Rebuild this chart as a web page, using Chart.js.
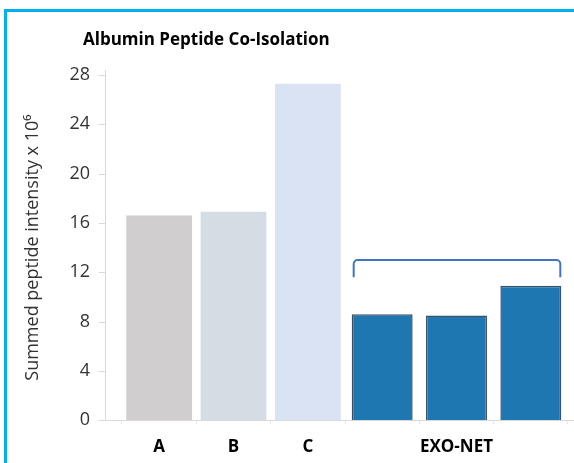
<!DOCTYPE html>
<html>
<head>
<meta charset="utf-8">
<script src="https://cdn.jsdelivr.net/npm/chart.js@4.4.1/dist/chart.umd.min.js"></script>
<style>
    html, body { margin: 0; padding: 0; background: #fff; }
    #wrap { position: relative; width: 574px; height: 463px; overflow: hidden; }
    #frame {
        position: absolute; left: 4px; top: 9px; width: 600px; height: 500px;
        border-left: 3px solid #00b0f0; border-top: 3px solid #00b0f0;
        pointer-events: none;
    }
</style>
</head>
<body>
<div id="wrap">
    <canvas id="albuminChart" width="574" height="463"></canvas>
    <div id="frame"></div>
</div>
<script>
// ===== DATA =====
const categories = ['A', 'B', 'C', 'EXO-NET 1', 'EXO-NET 2', 'EXO-NET 3'];
const tickLabels = ['A', 'B', 'C', '', 'EXO-NET', ''];
const otherMethods = [16.6, 16.9, 27.3, null, null, null];
const exoNet = [null, null, null, 8.6, 8.5, 10.9];
const yTickValues = [0, 4, 8, 12, 16, 20, 24, 28];

const chartTitle = 'Albumin Peptide Co-Isolation';
const yTitle = 'Summed peptide intensity x 10\u2076';

const FONT = '"Open Sans", Lato, sans-serif';
const AXIS_GREY = '#d9d9d9';

// ===== EXTRAS: title, offset axis lines, bracket =====
const extrasPlugin = {
    id: 'extras',
    beforeDatasetsDraw(chart) {
        const ctx = chart.ctx;
        const area = chart.chartArea;
        const y = chart.scales.y;
        const axisX = area.left - 17;

        ctx.save();
        ctx.strokeStyle = AXIS_GREY;
        ctx.lineWidth = 1;
        ctx.beginPath();
        // y axis line
        ctx.moveTo(axisX + 0.5, area.top - 5);
        ctx.lineTo(axisX + 0.5, area.bottom);
        // y tick marks
        yTickValues.forEach(v => {
            const py = Math.round(y.getPixelForValue(v)) + 0.5;
            ctx.moveTo(axisX - 6, py);
            ctx.lineTo(axisX, py);
        });
        // x axis line
        ctx.moveTo(axisX - 5, Math.round(area.bottom) + 0.5);
        ctx.lineTo(chart.width, Math.round(area.bottom) + 0.5);
        ctx.stroke();
        ctx.restore();
    },
    afterDatasetsDraw(chart) {
        const ctx = chart.ctx;
        const y = chart.scales.y;
        const meta = chart.getDatasetMeta(1);
        const first = meta.data[3];
        const last = meta.data[5];
        const left = first.x - first.width / 2 + 2;
        const right = last.x + last.width / 2 - 1;
        const top = y.getPixelForValue(13);
        const bottom = y.getPixelForValue(11.6);
        const r = 4;

        ctx.save();
        ctx.strokeStyle = '#4472c4';
        ctx.lineWidth = 2;
        ctx.beginPath();
        ctx.moveTo(left, bottom);
        ctx.lineTo(left, top + r);
        ctx.arcTo(left, top, left + r, top, r);
        ctx.lineTo(right - r, top);
        ctx.arcTo(right, top, right, top + r, r);
        ctx.lineTo(right, bottom);
        ctx.stroke();

        // chart title
        ctx.fillStyle = '#000';
        ctx.font = 'bold 17px ' + FONT;
        ctx.textBaseline = 'alphabetic';
        ctx.fillText(chartTitle, 83, 45);
        ctx.restore();
    }
};

// ===== CHART =====
function initChart() {
    const canvas = document.getElementById('albuminChart');
    const ctx = canvas.getContext('2d');

    new Chart(ctx, {
        type: 'bar',
        data: {
            labels: categories,
            datasets: [{
                label: 'Other methods',
                data: otherMethods,
                backgroundColor: ['#d0cece', '#d6dce4', '#dae3f3', null, null, null],
                borderWidth: 0,
                grouped: false,
                categoryPercentage: 1,
                barPercentage: 0.885
            }, {
                label: 'EXO-NET',
                data: exoNet,
                backgroundColor: '#1f77b2',
                borderColor: '#3c5166',
                borderWidth: 1.5,
                grouped: false,
                categoryPercentage: 1,
                barPercentage: 0.82
            }]
        },
        options: {
            responsive: false,
            animation: false,
            layout: {
                padding: { top: 75, right: 6, left: 0, bottom: 0 }
            },
            plugins: {
                legend: { display: false },
                tooltip: { enabled: false }
            },
            scales: {
                x: {
                    offset: true,
                    border: { display: false },
                    grid: {
                        display: true,
                        drawOnChartArea: false,
                        color: '#e6e6e6',
                        tickLength: 4
                    },
                    ticks: {
                        color: '#000',
                        padding: 13,
                        autoSkip: false,
                        maxRotation: 0,
                        font: { family: FONT, size: 17, weight: 'bold' },
                        callback: function(value, index) {
                            return tickLabels[index];
                        }
                    },
                    afterFit: function(scale) {
                        scale.height = 41;
                    }
                },
                y: {
                    min: 0,
                    max: 28,
                    border: { display: false },
                    grid: { display: false, drawTicks: false },
                    ticks: {
                        stepSize: 4,
                        color: '#333',
                        padding: 32,
                        font: { family: FONT, size: 18 }
                    },
                    title: {
                        display: true,
                        text: yTitle,
                        color: '#333',
                        padding: { top: 22, bottom: 0 },
                        font: { family: FONT, size: 18 }
                    },
                    afterFit: function(scale) {
                        scale.width = 122;
                    }
                }
            }
        },
        plugins: [extrasPlugin]
    });
}

document.addEventListener('DOMContentLoaded', initChart);
</script>
</body>
</html>
